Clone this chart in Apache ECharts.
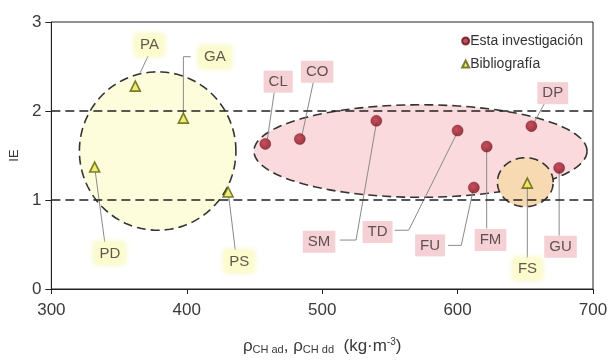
<!DOCTYPE html>
<html>
<head>
<meta charset="utf-8">
<script src="https://cdn.jsdelivr.net/npm/echarts@6/dist/echarts.min.js"></script>
<style>html,body{margin:0;padding:0;background:#fff}#c{width:612px;height:363px}</style>
</head>
<body>
<div id="c"></div>
<script>
// ---- data ----
const resNames = ['CL','CO','SM','TD','FM','FU','DP','GU'];
const resX = [458, 483.5, 540, 600, 621.5, 612, 654.5, 675];
const resY = [1.63, 1.685, 1.89, 1.78, 1.60, 1.14, 1.83, 1.36];
const resLabelX = [467.5, 496.3, 497.7, 540.9, 624.3, 579.7, 670.3, 676];
const resLabelY = [2.33, 2.44, 0.53, 0.64, 0.55, 0.49, 2.20, 0.475];

const bibNames = ['PA','GA','PD','PS','FS'];
const bibX = [362, 397.5, 332, 430.5, 651.5];
const bibY = [2.28, 1.92, 1.37, 1.09, 1.19];
const bibLabelX = [372.5, 420.8, 343.2, 438.7, 651.6];
const bibLabelY = [2.74, 2.61, 0.40, 0.31, 0.23];

// leader lines (data coords)
const leaderPaths = [
  [[371.5, 2.62], [365.6, 2.43]],                 // PA
  [[403, 2.61], [397.5, 2.61], [397.5, 1.98]],     // GA
  [[332.5, 1.31], [339.4, 0.53]],                 // PD
  [[431, 1.04], [435.8, 0.44]],                   // PS
  [[651.5, 1.15], [651.5, 0.35]],                 // FS
  [[459.5, 1.68], [464.6, 2.21]],                 // CL
  [[485, 1.72], [493.4, 2.32]],                   // CO
  [[540, 1.86], [525, 0.55], [513, 0.55]],        // SM
  [[599.5, 1.75], [563.9, 0.66], [553.5, 0.66]],  // TD
  [[611.5, 1.11], [602.7, 0.49], [593, 0.49]],    // FU
  [[621.5, 1.57], [621.5, 0.68]],                 // FM
  [[675, 1.33], [675, 0.60]],                     // GU
  [[656.5, 1.87], [664, 2.08]]                    // DP
];

// ellipses: center x, center y, radius x, radius y
const ellCX = [378.5, 572.6, 650];
const ellCY = [1.55, 1.55, 1.20];
const ellRX = [57.8, 123, 20.6];
const ellRY = [0.89, 0.52, 0.275];
const ellFill = ['#fdfddc', '#fbdadd', '#f8dab2'];

const xTicks = [300, 400, 500, 600, 700];
const yTicks = [0, 1, 2, 3];
const refLines = [1, 2];

const chart = echarts.init(document.getElementById('c'), null, {renderer: 'canvas'});
const FONT = 'Liberation Sans, Arial, sans-serif';

const labelCommon = {
  show: true, position: 'inside', formatter: p => p.data[2],
  fontFamily: FONT, fontSize: 15, color: '#3a3030',
  padding: [4, 5, 3, 5]
};

chart.setOption({
  animation: false,
  backgroundColor: '#fff',
  grid: {left: 50, right: 19, top: 22, bottom: 74, show: true, borderColor: '#222', borderWidth: 1, backgroundColor: 'transparent'},
  legend: {
    data: ['Esta investigación', 'Bibliografía'],
    orient: 'vertical', right: 24, top: 29,
    itemWidth: 7, itemHeight: 7, itemGap: 9,
    textStyle: {fontFamily: FONT, fontSize: 14, color: '#333', padding: [0, 0, 0, -4]}
  },
  xAxis: {
    type: 'value', min: xTicks[0], max: xTicks[xTicks.length - 1], interval: 100,
    axisLine: {lineStyle: {color: '#222', width: 1}},
    axisTick: {show: true, inside: false, length: 5, lineStyle: {color: '#222'}},
    splitLine: {show: false},
    axisLabel: {fontFamily: FONT, fontSize: 17, color: '#3a3a3a', margin: 13},
    name: 'ρ{s|CH ad}, ρ{s|CH dd}  (kg·m{sup|-3})',
    nameLocation: 'middle', nameGap: 48,
    nameTextStyle: {
      fontFamily: FONT, fontSize: 17, color: '#3a3a3a',
      rich: {
        s: {fontFamily: FONT, fontSize: 11, color: '#3a3a3a', verticalAlign: 'bottom', padding: [6, 0, 0, 0]},
        sup: {fontFamily: FONT, fontSize: 10, color: '#3a3a3a', verticalAlign: 'top', padding: [0, 0, 8, 0]}
      }
    }
  },
  yAxis: {
    type: 'value', min: yTicks[0], max: yTicks[yTicks.length - 1], interval: 1,
    axisLine: {show: true, lineStyle: {color: '#222', width: 1}},
    axisTick: {show: true, inside: false, length: 6, lineStyle: {color: '#222'}},
    splitLine: {show: false},
    axisLabel: {fontFamily: FONT, fontSize: 17, color: '#3a3a3a', margin: 10},
    name: 'I{s|E}', nameLocation: 'middle', nameGap: 28, nameRotate: 90,
    nameTextStyle: {
      fontFamily: FONT, fontSize: 13, color: '#3a3a3a',
      rich: {s: {fontFamily: FONT, fontSize: 13, color: '#3a3a3a'}}
    }
  },
  series: [
    {
      type: 'custom', name: 'ellipses', z: 1, silent: true,
      data: ellCX.map((cx, i) => [cx, ellCY[i], ellRX[i], ellRY[i], i]),
      encode: {x: 0, y: 1},
      renderItem: (params, api) => {
        const cx = api.value(0), cy = api.value(1), rx = api.value(2), ry = api.value(3), idx = api.value(4);
        const pts = [];
        const N = 120;
        for (let k = 0; k < N; k++) {
          const t = 2 * Math.PI * k / N;
          pts.push(api.coord([cx + rx * Math.cos(t), cy + ry * Math.sin(t)]));
        }
        return {
          type: 'polygon', shape: {points: pts},
          style: {fill: ellFill[idx], stroke: '#333', lineWidth: 1.6, lineDash: [9, 5]}
        };
      }
    },
    {
      type: 'line', name: 'ref', z: 2, data: [], silent: true,
      markLine: {
        silent: true, symbol: ['none', 'none'], label: {show: false},
        lineStyle: {color: '#222', width: 1.5, type: [9, 5]},
        data: refLines.map(v => ({yAxis: v}))
      }
    },
    {
      type: 'lines', name: 'leaders', coordinateSystem: 'cartesian2d', polyline: true, z: 3, silent: true,
      lineStyle: {color: '#8a8a8a', width: 1, opacity: 1},
      data: leaderPaths.map(p => ({coords: p}))
    },
    {
      type: 'scatter', name: 'Esta investigación', z: 4,
      symbol: 'circle', symbolSize: 11,
      itemStyle: {
        color: {type: 'radial', x: 0.4, y: 0.4, r: 0.7, colorStops: [{offset: 0, color: '#b82a3a'}, {offset: 1, color: '#7a0c1a'}]},
        borderColor: '#6a1018', borderWidth: 0.5
      },
      data: resX.map((x, i) => [x, resY[i]])
    },
    {
      type: 'scatter', name: 'Bibliografía', z: 4,
      symbol: 'triangle', symbolSize: 10,
      itemStyle: {color: '#e8e85a', borderColor: '#5e5e08', borderWidth: 1.6},
      data: bibX.map((x, i) => [x, bibY[i]])
    },
    {
      type: 'scatter', name: 'resLabels', z: 5, symbol: 'rect', symbolSize: 1,
      itemStyle: {color: 'rgba(0,0,0,0)'}, silent: true,
      label: Object.assign({}, labelCommon, {backgroundColor: '#f3c6cb'}),
      data: resLabelX.map((x, i) => [x, resLabelY[i], resNames[i]])
    },
    {
      type: 'scatter', name: 'bibLabels', z: 5, symbol: 'rect', symbolSize: 1,
      itemStyle: {color: 'rgba(0,0,0,0)'}, silent: true,
      label: Object.assign({}, labelCommon, {backgroundColor: '#fcfcd2', shadowColor: 'rgba(240,240,150,0.9)', shadowBlur: 6}),
      data: bibLabelX.map((x, i) => [x, bibLabelY[i], bibNames[i]])
    }
  ]
});
</script>
</body>
</html>
